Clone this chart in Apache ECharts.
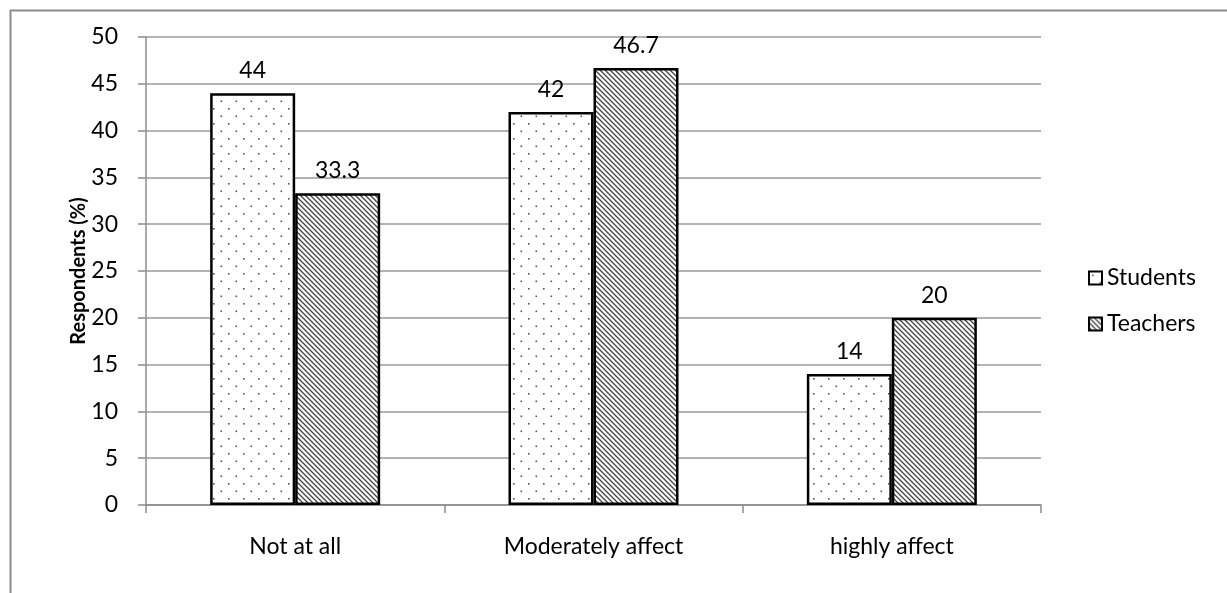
<!DOCTYPE html>
<html>
<head>
<meta charset="utf-8">
<script src="https://cdn.jsdelivr.net/npm/echarts@6/dist/echarts.min.js"></script>
<style>
html,body{margin:0;padding:0;background:#fff;}
#c{width:1227px;height:593px;}
</style>
</head>
<body>
<div id="c"></div>
<script>
var categories = ['Not at all', 'Moderately affect', 'highly affect'];
var students = [44, 42, 14];
var teachers = [33.3, 46.7, 20];
var yTicks = [0, 5, 10, 15, 20, 25, 30, 35, 40, 45, 50];

function dotPattern() {
  var c = document.createElement('canvas');
  c.width = 15; c.height = 15;
  var g = c.getContext('2d');
  g.fillStyle = '#fff'; g.fillRect(0, 0, 15, 15);
  g.fillStyle = '#555';
  g.fillRect(3, 3, 1.6, 1.6);
  g.fillRect(10.5, 10.5, 1.6, 1.6);
  return c;
}
function hatchPattern() {
  var s = 5;
  var c = document.createElement('canvas');
  c.width = s; c.height = s;
  var g = c.getContext('2d');
  g.fillStyle = '#fff'; g.fillRect(0, 0, s, s);
  g.strokeStyle = '#444'; g.lineWidth = 1.3;
  g.beginPath();
  g.moveTo(-1, -1); g.lineTo(s + 1, s + 1);
  g.moveTo(-1, s - 1); g.lineTo(1, s + 1);
  g.moveTo(s - 1, -1); g.lineTo(s + 1, 1);
  g.stroke();
  return c;
}
var dotFill = { image: dotPattern(), repeat: 'repeat' };
var hatchFill = { image: hatchPattern(), repeat: 'repeat' };

var font = 'Lato, "Liberation Sans", sans-serif';
var fs = 23;
var chart = echarts.init(document.getElementById('c'));
chart.setOption({
  animation: false,
  textStyle: { fontFamily: font },
  graphic: [{
    type: 'rect', left: 8, top: 8,
    shape: { width: 1300, height: 700 },
    style: { fill: 'none', stroke: '#8c8c8c', lineWidth: 2 },
    silent: true, z: -1
  }],
  grid: { left: 146, right: 186, top: 37, bottom: 88 },
  legend: {
    orient: 'vertical', left: 1083, top: 261,
    itemWidth: 13, itemHeight: 13, itemGap: 22,
    icon: 'rect',
    textStyle: { fontSize: fs, lineHeight: 24, color: '#000', fontFamily: font },
    data: ['Students', 'Teachers']
  },
  xAxis: {
    type: 'category', data: categories,
    axisLine: { lineStyle: { color: '#8c8c8c', width: 1.5 } },
    axisTick: { show: true, length: 8, lineStyle: { color: '#8c8c8c', width: 1.5 } },
    axisLabel: { fontSize: fs, color: '#000', margin: 30, fontFamily: font }
  },
  yAxis: {
    type: 'value', min: 0, max: 50, interval: 5,
    name: 'Respondents (%)', nameLocation: 'middle', nameGap: 57,
    nameMoveOverlap: false,
    nameTextStyle: { fontSize: 20, fontWeight: 'bold', color: '#000', fontFamily: font },
    axisLine: { show: true, lineStyle: { color: '#8c8c8c', width: 1.5 } },
    axisTick: { show: true, length: 8, lineStyle: { color: '#8c8c8c', width: 1.5 } },
    splitLine: { lineStyle: { color: '#9a9a9a', width: 1.5 } },
    axisLabel: { fontSize: fs, color: '#000', margin: 28, fontFamily: font,
      formatter: function (v) { return yTicks.indexOf(v) >= 0 ? String(v) : ''; } }
  },
  series: [{
    name: 'Students', type: 'bar', data: students,
    barWidth: 85, barGap: '0%',
    itemStyle: { color: dotFill, borderColor: '#000', borderWidth: 2.5 },
    label: { show: true, position: 'top', distance: 11, fontSize: fs, color: '#000', fontFamily: font }
  }, {
    name: 'Teachers', type: 'bar', data: teachers,
    barWidth: 85, barGap: '0%',
    itemStyle: { color: hatchFill, borderColor: '#000', borderWidth: 2.5 },
    label: { show: true, position: 'top', distance: 11, fontSize: fs, color: '#000', fontFamily: font }
  }]
});
</script>
</body>
</html>
